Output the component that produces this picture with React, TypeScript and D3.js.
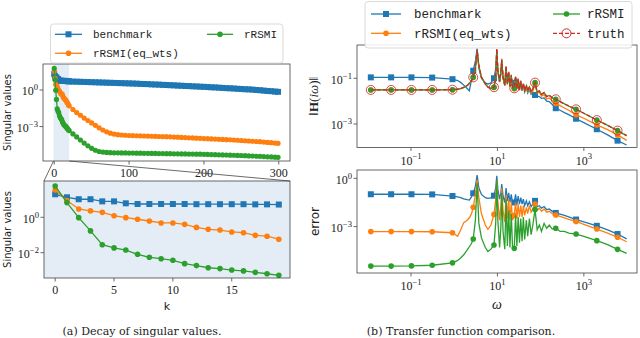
import React from "react";
import * as d3 from "d3";

// ---------- (a) decay of singular values (log10 of sigma_k) ----------
const kHead = d3.range(0, 20);
const kTail = [...d3.range(20, 300, 5), 299];

const benchHead = [1.30, 1.13, 1.02, 1.02, 0.90, 0.90, 0.79, 0.75, 0.75, 0.75, 0.75, 0.75, 0.74, 0.74, 0.74, 0.74, 0.74, 0.73, 0.73, 0.72];
const eqHead = [1.54, 0.95, 0.47, 0.36, 0.28, 0.09, -0.02, -0.11, -0.21, -0.32, -0.32, -0.40, -0.57, -0.68, -0.72, -0.83, -0.87, -1.02, -1.07, -1.24];
const rsmiHead = [1.77, 0.83, -0.02, -0.77, -1.55, -1.73, -1.85, -2.09, -2.26, -2.34, -2.43, -2.62, -2.73, -2.85, -2.90, -2.98, -3.03, -3.11, -3.19, -3.28];

const benchTail = [0.70, 0.69, 0.68, 0.67, 0.66, 0.65, 0.64, 0.63, 0.62, 0.61, 0.60, 0.59, 0.58, 0.57, 0.56, 0.55, 0.54,
  0.53, 0.52, 0.50, 0.49, 0.48, 0.46, 0.45, 0.44, 0.42, 0.41, 0.39, 0.38, 0.36, 0.35, 0.33, 0.32, 0.30, 0.29, 0.27, 0.26,
  0.24, 0.22, 0.21, 0.19, 0.17, 0.15, 0.14, 0.12, 0.10, 0.08, 0.06, 0.05, 0.03, 0.00, -0.02, -0.05, -0.08, -0.10, -0.13, -0.15];
const eqTail = [-1.30, -1.60, -1.85, -2.07, -2.30, -2.50, -2.70, -2.90, -3.10, -3.28, -3.43, -3.54, -3.61, -3.66, -3.69, -3.71, -3.73,
  -3.74, -3.75, -3.76, -3.77, -3.78, -3.79, -3.80, -3.81, -3.82, -3.83, -3.84, -3.86, -3.87, -3.89, -3.90, -3.92, -3.93, -3.95, -3.96, -3.98,
  -3.99, -4.01, -4.02, -4.04, -4.05, -4.07, -4.08, -4.10, -4.12, -4.14, -4.16, -4.18, -4.20, -4.22, -4.24, -4.27, -4.30, -4.32, -4.35, -4.37];
const rsmiTail = [-3.33, -3.60, -3.85, -4.10, -4.35, -4.58, -4.78, -4.94, -5.04, -5.09, -5.12, -5.14, -5.15, -5.15, -5.16, -5.16, -5.17,
  -5.17, -5.18, -5.18, -5.19, -5.19, -5.20, -5.20, -5.21, -5.21, -5.22, -5.22, -5.23, -5.23, -5.24, -5.24, -5.25, -5.25, -5.26, -5.26, -5.27,
  -5.28, -5.29, -5.30, -5.31, -5.32, -5.33, -5.34, -5.35, -5.36, -5.37, -5.38, -5.40, -5.41, -5.43, -5.44, -5.46, -5.48, -5.49, -5.51, -5.52];

// ---------- (b) transfer function comparison (log10 omega, log10 values) ----------
const omegaExp = [-1.93, -1.46, -0.99, -0.51, -0.04, 0.08, 0.15, 0.22, 0.30, 0.35, 0.40, 0.44, 0.49, 0.53, 0.57, 0.63, 0.72, 0.78, 0.85, 0.92,
  0.96, 0.985, 1.01, 1.05, 1.08, 1.10, 1.13, 1.17, 1.20, 1.23, 1.26, 1.29, 1.32, 1.35, 1.39, 1.42, 1.45, 1.48, 1.51, 1.54,
  1.57, 1.60, 1.63, 1.67, 1.70, 1.74, 1.78, 1.82, 1.87, 1.92, 1.97, 2.02, 2.08, 2.14, 2.20, 2.27, 2.35, 2.45, 2.55, 2.65,
  2.82, 3.00, 3.30, 3.55, 3.78, 3.99];
const markIdx = [0, 1, 2, 3, 4, 11, 19, 34, 48, 56, 60, 62, 64];

const hTruth = [-1.51, -1.51, -1.51, -1.51, -1.50, -1.48, -1.45, -1.40, -1.32, -1.22, -1.10, -0.96, -0.55, 0.25, -0.45, -0.95, -1.25, -1.38, -1.45, -1.39,
  -0.95, 0.30, -0.65, -1.15, -0.70, -0.15, -0.95, -1.30, -0.45, -1.25, -0.70, -1.35, -0.85, -1.40, -1.44, -0.90, -1.45, -1.00, -1.50, -1.10,
  -1.50, -1.20, -1.52, -1.30, -1.55, -1.35, -1.60, -1.45, -1.19, -1.60, -1.55, -1.70, -1.62, -1.80, -1.74, -1.86, -1.92, -2.02, -2.12, -2.21,
  -2.36, -2.53, -2.83, -3.06, -3.29, -3.50];
const hRsmi = [-1.51, -1.51, -1.51, -1.51, -1.50, -1.48, -1.45, -1.40, -1.32, -1.22, -1.10, -0.96, -0.57, 0.22, -0.47, -0.95, -1.25, -1.38, -1.45, -1.39,
  -0.97, 0.26, -0.68, -1.15, -0.72, -0.20, -0.95, -1.30, -0.50, -1.25, -0.74, -1.35, -0.88, -1.40, -1.44, -0.93, -1.45, -1.04, -1.50, -1.13,
  -1.50, -1.24, -1.52, -1.32, -1.55, -1.38, -1.60, -1.46, -1.19, -1.60, -1.56, -1.70, -1.63, -1.80, -1.75, -1.86, -1.92, -2.02, -2.12, -2.22,
  -2.36, -2.53, -2.83, -3.06, -3.29, -3.52];
const hEq = [-1.51, -1.51, -1.51, -1.51, -1.50, -1.48, -1.45, -1.40, -1.32, -1.22, -1.10, -0.96, -0.56, 0.20, -0.48, -0.96, -1.26, -1.39, -1.46, -1.40,
  -0.98, 0.22, -0.70, -1.17, -0.74, -0.25, -0.98, -1.32, -0.55, -1.28, -0.78, -1.38, -0.92, -1.43, -1.46, -0.98, -1.48, -1.08, -1.53, -1.18,
  -1.54, -1.28, -1.55, -1.38, -1.60, -1.45, -1.65, -1.55, -1.25, -1.65, -1.62, -1.78, -1.72, -1.90, -1.86, -1.98, -2.10, -2.20, -2.30, -2.40,
  -2.60, -2.75, -3.04, -3.25, -3.48, -3.72];
const hBench = [-0.96, -0.96, -0.96, -0.97, -1.04, -1.10, -1.18, -1.30, -1.45, -1.55, -1.05, -0.67, -0.25, 0.30, -0.55, -1.00, -1.20, -1.25, -1.20, -1.00,
  -0.60, 0.20, -0.70, -1.15, -0.80, -0.30, -1.00, -1.30, -0.55, -1.25, -0.80, -1.35, -0.95, -1.35, -1.20, -1.00, -1.40, -1.10, -1.50, -1.20,
  -1.55, -1.30, -1.60, -1.40, -1.65, -1.50, -1.70, -1.62, -1.73, -1.78, -1.80, -1.88, -1.86, -2.00, -2.02, -2.15, -2.31, -2.40, -2.50, -2.59,
  -2.77, -2.94, -3.23, -3.48, -3.73, -3.92];

const eBench = [-0.99, -0.99, -0.99, -1.00, -1.10, -1.15, -1.20, -1.27, -1.33, -1.35, -1.15, -0.93, -0.50, 0.20, -0.60, -1.00, -1.20, -1.25, -1.22, -1.08,
  -0.60, 0.15, -0.70, -1.30, -0.90, -0.35, -1.10, -1.50, -0.60, -1.40, -0.90, -1.50, -1.00, -1.55, -1.50, -1.00, -1.60, -1.10, -1.60, -1.20,
  -1.60, -1.30, -1.70, -1.40, -1.70, -1.45, -1.75, -1.60, -1.40, -1.75, -1.70, -1.85, -1.75, -1.95, -1.90, -2.05, -2.15, -2.22, -2.30, -2.40,
  -2.56, -2.70, -2.95, -3.20, -3.46, -3.76];
const eEq = [-3.31, -3.31, -3.31, -3.32, -3.38, -3.60, -3.20, -2.75, -2.60, -2.45, -2.20, -1.80, -1.00, -0.10, -1.20, -2.20, -2.90, -3.17, -2.90, -2.24,
  -1.30, -0.10, -1.40, -2.60, -1.70, -0.60, -2.00, -2.70, -1.00, -2.50, -1.30, -2.60, -1.50, -2.60, -2.30, -1.50, -2.50, -1.60, -2.40, -1.70,
  -2.40, -1.70, -2.30, -1.80, -2.20, -1.70, -2.10, -1.90, -1.60, -2.00, -1.85, -2.05, -1.90, -2.10, -2.05, -2.20, -2.28, -2.36, -2.46, -2.55,
  -2.68, -2.86, -3.15, -3.40, -3.66, -3.94];
const eRsmi = [-5.45, -5.45, -5.44, -5.40, -5.25, -5.10, -4.95, -4.75, -4.45, -4.25, -4.05, -3.77, -2.60, -0.30, -2.80, -3.70, -4.30, -4.55, -4.40, -4.14,
  -2.80, -0.10, -2.60, -4.30, -3.00, -0.90, -3.30, -4.40, -1.30, -4.20, -2.00, -4.30, -2.20, -4.30, -4.35, -2.30, -4.20, -2.40, -4.00, -2.50,
  -3.90, -2.40, -3.80, -2.60, -3.60, -2.50, -3.50, -2.90, -1.93, -3.20, -2.90, -3.30, -2.80, -3.10, -2.90, -3.15, -3.10, -3.30, -3.30, -3.40,
  -3.46, -3.60, -3.87, -4.12, -4.41, -4.66];

const BLUE = "#1f77b4";
const ORANGE = "#ff7f0e";
const GREEN = "#2ca02c";
const RED = "#d62728";
const AX = "#444";
const SERIF = "'Liberation Serif', 'DejaVu Serif', serif";
const CAPTION = "'DejaVu Serif', serif";
const SANS = "'DejaVu Sans', sans-serif";
const MONO = "'Liberation Mono', 'DejaVu Sans Mono', monospace";
const SHADE = "#e4edf6";

const minus = (e: number) => (e < 0 ? "\u2212" + Math.abs(e) : String(e));

function Pow10({ x, y, e, anchor, size }: any) {
  return (
    <text x={x} y={y} textAnchor={anchor} fontFamily={SERIF} fontSize={size} fill="#222">
      10<tspan dy={-size * 0.42} fontSize={size * 0.72}>{minus(e)}</tspan>
    </text>
  );
}

function Series({ xs, ys, xS, yS, color, marker, idx, ms = 2.8, dashed = false, lw = 1.3, clip }: any) {
  const pts = xs.map((x: number, i: number) => [xS(x), yS(Math.pow(10, ys[i]))]);
  const line = d3.line()(pts as [number, number][]) as string;
  const which = idx ? idx : pts.map((_: any, i: number) => i);
  return (
    <g clipPath={`url(#${clip})`}>
      <path d={line} fill="none" stroke={color} strokeWidth={lw} strokeDasharray={dashed ? "4,2" : undefined} />
      {which.map((i: number) => {
        const [px, py] = pts[i];
        if (marker === "s") return <rect key={i} x={px - ms} y={py - ms} width={ms * 2} height={ms * 2} fill={color} />;
        if (marker === "o") return <circle key={i} cx={px} cy={py} r={ms} fill={color} />;
        return <circle key={i} cx={px} cy={py} r={ms} fill="none" stroke={color} strokeWidth={1} opacity={0.85} />;
      })}
    </g>
  );
}

function Legend({ x, y, w, h, rows, fs }: any) {
  return (
    <g>
      <rect x={x} y={y} width={w} height={h} rx={3} fill="white" fillOpacity={0.85} stroke="#d0d0d0" strokeWidth={0.8} />
      {rows.map((r: any, i: number) => {
        const mx = (r.x0 + r.x1) / 2;
        return (
          <g key={i}>
            <line x1={r.x0} x2={r.x1} y1={r.y} y2={r.y} stroke={r.color} strokeWidth={1.3} strokeDasharray={r.dashed ? "4,2" : undefined} />
            {r.marker === "s" && <rect x={mx - 3} y={r.y - 3} width={6} height={6} fill={r.color} />}
            {r.marker === "o" && <circle cx={mx} cy={r.y} r={2.8} fill={r.color} />}
            {r.marker === "ring" && <circle cx={mx} cy={r.y} r={4.5} fill="none" stroke={r.color} strokeWidth={1} />}
            <text x={r.tx} y={r.y + fs * 0.35} fontFamily={MONO} fontSize={fs} fill="#222">{r.label}</text>
          </g>
        );
      })}
    </g>
  );
}

export default function App() {
  // panel boxes
  const tl = { x0: 43, x1: 290, y0: 64, y1: 161 };
  const bl = { x0: 44, x1: 290, y0: 181, y1: 278 };
  const tr = { x0: 357, x1: 637, y0: 45, y1: 147.5 };
  const br = { x0: 357, x1: 637, y0: 170, y1: 273 };

  const xTL = d3.scaleLinear().domain([-15, 315]).range([tl.x0, tl.x1]);
  const yTL = d3.scaleLog().domain([10 ** -5.82, 10 ** 2.13]).range([tl.y1, tl.y0]);
  const xBL = d3.scaleLinear().domain([-0.95, 19.95]).range([bl.x0, bl.x1]);
  const yBL = d3.scaleLog().domain([10 ** -3.43, 10 ** 2.05]).range([bl.y1, bl.y0]);
  const xR = d3.scaleLog().domain([10 ** -2.25, 10 ** 4.23]).range([tr.x0, tr.x1]);
  const yTR = d3.scaleLog().domain([10 ** -4.03, 10 ** 0.457]).range([tr.y1, tr.y0]);
  const yBR = d3.scaleLog().domain([10 ** -5.88, 10 ** 0.516]).range([br.y1, br.y0]);

  const kAll = kHead.concat(kTail);
  const omega = omegaExp.map((e) => Math.pow(10, e));

  const frame = (b: any) => (
    <rect x={b.x0} y={b.y0} width={b.x1 - b.x0} height={b.y1 - b.y0} fill="none" stroke={AX} strokeWidth={0.8} />
  );
  const clipRect = (id: string, b: any) => (
    <clipPath id={id}>
      <rect x={b.x0} y={b.y0} width={b.x1 - b.x0} height={b.y1 - b.y0} />
    </clipPath>
  );
  const yTicks = (b: any, yS: any, exps: number[], fs: number) =>
    exps.map((e) => {
      const y = yS(Math.pow(10, e));
      return (
        <g key={"y" + e}>
          <line x1={b.x0 - 3.5} x2={b.x0} y1={y} y2={y} stroke={AX} strokeWidth={0.8} />
          <Pow10 x={b.x0 - 5} y={y + fs * 0.45} e={e} anchor="end" size={fs} />
        </g>
      );
    });
  const xTicksLin = (b: any, xS: any, vals: number[], fs: number) =>
    vals.map((v) => (
      <g key={"x" + v}>
        <line x1={xS(v)} x2={xS(v)} y1={b.y1} y2={b.y1 + 3.5} stroke={AX} strokeWidth={0.8} />
        <text x={xS(v)} y={b.y1 + 4 + fs} textAnchor="middle" fontFamily={SERIF} fontSize={fs} fill="#222">{v}</text>
      </g>
    ));
  const xTicksLog = (b: any, exps: number[], fs: number) =>
    exps.map((e) => {
      const x = xR(Math.pow(10, e));
      return (
        <g key={"x" + e}>
          <line x1={x} x2={x} y1={b.y1} y2={b.y1 + 3.5} stroke={AX} strokeWidth={0.8} />
          <Pow10 x={x} y={b.y1 + 5 + fs} e={e} anchor="middle" size={fs} />
        </g>
      );
    });

  return (
    <svg width={640} height={338} style={{ position: "absolute", left: 0, top: 0, background: "white" }}>
      <defs>
        {clipRect("cTL", tl)}
        {clipRect("cBL", bl)}
        {clipRect("cTR", tr)}
        {clipRect("cBR", br)}
      </defs>

      {/* (a) top: all singular values */}
      <rect x={xTL(-0.95)} y={tl.y0} width={xTL(19.95) - xTL(-0.95)} height={tl.y1 - tl.y0} fill={SHADE} />
      <Series xs={kAll} ys={benchHead.concat(benchTail)} xS={xTL} yS={yTL} color={BLUE} marker="s" ms={3} clip="cTL" />
      <Series xs={kAll} ys={eqHead.concat(eqTail)} xS={xTL} yS={yTL} color={ORANGE} marker="o" ms={2.6} clip="cTL" />
      <Series xs={kAll} ys={rsmiHead.concat(rsmiTail)} xS={xTL} yS={yTL} color={GREEN} marker="o" ms={2.6} clip="cTL" />
      {frame(tl)}
      {yTicks(tl, yTL, [0, -3], 12)}
      {xTicksLin(tl, xTL, [0, 100, 200, 300], 12)}

      {/* (a) bottom: zoom on first 20 */}
      <rect x={bl.x0} y={bl.y0} width={bl.x1 - bl.x0} height={bl.y1 - bl.y0} fill={SHADE} />
      <Series xs={kHead} ys={benchHead} xS={xBL} yS={yBL} color={BLUE} marker="s" ms={3} clip="cBL" />
      <Series xs={kHead} ys={eqHead} xS={xBL} yS={yBL} color={ORANGE} marker="o" ms={2.8} clip="cBL" />
      <Series xs={kHead} ys={rsmiHead} xS={xBL} yS={yBL} color={GREEN} marker="o" ms={2.8} clip="cBL" />
      {frame(bl)}
      {yTicks(bl, yBL, [0, -2], 12)}
      {xTicksLin(bl, xBL, [0, 5, 10, 15], 12)}

      {/* zoom connectors */}
      <line x1={xTL(-0.95)} y1={tl.y1} x2={bl.x0} y2={bl.y0} stroke={AX} strokeWidth={0.8} />
      <line x1={xTL(19.95)} y1={tl.y1} x2={bl.x1} y2={bl.y0} stroke={AX} strokeWidth={0.8} />

      <text transform={`translate(11,${(tl.y0 + tl.y1) / 2}) rotate(-90)`} textAnchor="middle" fontFamily={SANS} fontSize={10} fill="#222">Singular values</text>
      <text transform={`translate(11,${(bl.y0 + bl.y1) / 2}) rotate(-90)`} textAnchor="middle" fontFamily={SANS} fontSize={10} fill="#222">Singular values</text>
      <text x={(bl.x0 + bl.x1) / 2} y={310} textAnchor="middle" fontFamily={SANS} fontSize={11} fill="#222">k</text>

      <Legend x={50.5} y={24} w={232.5} h={39} fs={11} rows={[
        { x0: 55, x1: 82, tx: 93, y: 34.3, color: BLUE, marker: "s", label: "benchmark" },
        { x0: 55, x1: 82, tx: 93, y: 53.3, color: ORANGE, marker: "o", label: "rRSMI(eq_wts)" },
        { x0: 207, x1: 233, tx: 244, y: 34.3, color: GREEN, marker: "o", label: "rRSMI" },
      ]} />

      {/* (b) top: transfer function magnitude */}
      <Series xs={omega} ys={hBench} xS={xR} yS={yTR} color={BLUE} marker="s" idx={markIdx} ms={3} clip="cTR" />
      <Series xs={omega} ys={hEq} xS={xR} yS={yTR} color={ORANGE} marker="o" idx={markIdx} ms={2.8} clip="cTR" />
      <Series xs={omega} ys={hRsmi} xS={xR} yS={yTR} color={GREEN} marker="o" idx={markIdx} ms={2.8} clip="cTR" />
      <Series xs={omega} ys={hTruth} xS={xR} yS={yTR} color={RED} marker="ring" idx={markIdx} ms={4.5} dashed clip="cTR" />
      {frame(tr)}
      {yTicks(tr, yTR, [-1, -3], 12)}
      {xTicksLog(tr, [-1, 1, 3], 12)}

      {/* (b) bottom: error */}
      <Series xs={omega} ys={eBench} xS={xR} yS={yBR} color={BLUE} marker="s" idx={markIdx} ms={3} clip="cBR" />
      <Series xs={omega} ys={eEq} xS={xR} yS={yBR} color={ORANGE} marker="o" idx={markIdx} ms={2.8} clip="cBR" />
      <Series xs={omega} ys={eRsmi} xS={xR} yS={yBR} color={GREEN} marker="o" idx={markIdx} ms={2.8} clip="cBR" />
      {frame(br)}
      {yTicks(br, yBR, [0, -3], 12)}
      {xTicksLog(br, [-1, 1, 3], 12)}

      <text transform={`translate(318,${(tr.y0 + tr.y1) / 2}) rotate(-90)`} textAnchor="middle" fontFamily={SERIF} fontSize={13} fill="#222">
        {"\u2016"}<tspan fontWeight="bold">H</tspan>{"("}<tspan fontStyle="italic">{"i\u03c9"}</tspan>{")\u2016"}
      </text>
      <text transform={`translate(319,${(br.y0 + br.y1) / 2}) rotate(-90)`} textAnchor="middle" fontFamily={SANS} fontSize={12} fill="#222">error</text>
      <text x={(br.x0 + br.x1) / 2} y={309} textAnchor="middle" fontFamily={SERIF} fontStyle="italic" fontSize={14} fill="#222">{"\u03c9"}</text>

      <Legend x={365} y={1.5} w={267} h={46.5} fs={12.5} rows={[
        { x0: 371, x1: 401, tx: 414, y: 14, color: BLUE, marker: "s", label: "benchmark" },
        { x0: 371, x1: 401, tx: 414, y: 33.3, color: ORANGE, marker: "o", label: "rRSMI(eq_wts)" },
        { x0: 553, x1: 580, tx: 587, y: 14, color: GREEN, marker: "o", label: "rRSMI" },
        { x0: 553, x1: 580, tx: 587, y: 33.3, color: RED, marker: "ring", dashed: true, label: "truth" },
      ]} />

      {/* captions */}
      <text x={142} y={335} textAnchor="middle" fontFamily={CAPTION} fontSize={11} fill="#222">(a) Decay of singular values.</text>
      <text x={461} y={335} textAnchor="middle" fontFamily={CAPTION} fontSize={11} fill="#222">(b) Transfer function comparison.</text>
    </svg>
  );
}
